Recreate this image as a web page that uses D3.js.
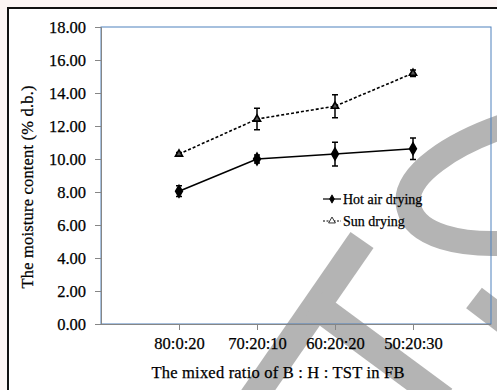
<!DOCTYPE html>
<html>
<head>
<meta charset="utf-8">
<script src="https://cdn.jsdelivr.net/npm/d3@7"></script>
<style>
  body { margin: 0; background: #fcf5f4; }
  svg { display: block; }
  text { font-family: "Liberation Serif", "Times New Roman", serif; fill: #000; stroke: #000; stroke-width: 0.25px; }
</style>
</head>
<body>
<script>
// ratios of B : H : TST, placed at x = 1..4 like the excel sheet
const categories = ["80:0:20", "70:20:10", "60:20:20", "50:20:30"];
const hotAir = [8.05, 10.0, 10.3, 10.62];
const hotAirErr = [0.33, 0.24, 0.72, 0.65];
const sunDry = [10.3, 12.42, 13.2, 15.2];
const sunDryErr = [0.1, 0.65, 0.7, 0.2];
const yTicks = [0, 2, 4, 6, 8, 10, 12, 14, 16, 18];

const width = 497, height = 390;
const plot = { left: 101, right: 491, top: 27, bottom: 324 };

const svg = d3.select("body").append("svg")
    .attr("width", width)
    .attr("height", height);

// white sheet with the dark frame at top/left
svg.append("rect")
    .attr("x", 8).attr("y", 8)
    .attr("width", width).attr("height", height)
    .attr("fill", "#fff")
    .attr("stroke", "#111")
    .attr("stroke-width", 2);

// grey watermark behind the chart (not data)
const mark = svg.append("g")
    .attr("fill", "none")
    .attr("stroke", "#b4b4b4")
    .attr("stroke-width", 28);
mark.append("path").attr("d", "M250,402 L362,240");   // T bar
mark.append("path").attr("d", "M314,304 L444,400");   // T stem
mark.append("path")                                   // C
    .attr("stroke-width", 25)
    .attr("d", "M510,124 C455,142 400,175 409,208 C416,236 460,246 510,243");
mark.append("path").attr("stroke-width", 26).attr("d", "M474,298 L516,330");

const x = d3.scaleLinear().domain([0, 5]).range([plot.left, plot.right]);
const y = d3.scaleLinear().domain([0, 18]).range([plot.bottom, plot.top]);

// plot area border (blue)
svg.append("rect")
    .attr("x", plot.left).attr("y", plot.top)
    .attr("width", plot.right - plot.left)
    .attr("height", plot.bottom - plot.top)
    .attr("fill", "none")
    .attr("stroke", "#4f81bd")
    .attr("stroke-width", 1);

const yAxis = svg.append("g")
    .attr("transform", `translate(${plot.left},0)`)
    .call(d3.axisLeft(y).tickValues(yTicks).tickFormat(d3.format(".2f")).tickSize(6).tickPadding(9));

const xAxis = svg.append("g")
    .attr("transform", `translate(0,${plot.bottom})`)
    .call(d3.axisBottom(x).tickValues([1, 2, 3, 4]).tickFormat(d => categories[d - 1]).tickSize(6).tickPadding(7));

[yAxis, xAxis].forEach(a => {
    a.selectAll("path, line").attr("stroke", "#868686");
    a.selectAll("text").style("font-size", "16.5px").attr("fill", "#000");
});
xAxis.select(".domain").attr("d", `M${plot.left - 6},0.5H${plot.right}`);

// titles
svg.append("text")
    .attr("x", 278).attr("y", 378)
    .attr("text-anchor", "middle")
    .attr("textLength", 253)
    .style("font-size", "16.5px")
    .text("The mixed ratio of B : H : TST in FB");

svg.append("text")
    .attr("transform", "translate(33,187) rotate(-90)")
    .attr("text-anchor", "middle")
    .attr("textLength", 203)
    .style("font-size", "16.5px")
    .text("The moisture content  (% d.b.)");

const series = [
    { name: "Hot air drying", vals: hotAir, err: hotAirErr, dash: null, sym: d3.symbolDiamond },
    { name: "Sun drying", vals: sunDry, err: sunDryErr, dash: "3,2", sym: d3.symbolTriangle }
];

const line = d3.line().x((d, i) => x(i + 1)).y(d => y(d));

series.forEach(s => {
    const g = svg.append("g");
    g.append("path")
        .attr("d", line(s.vals))
        .attr("fill", "none")
        .attr("stroke", "#000")
        .attr("stroke-width", 1.6)
        .attr("stroke-dasharray", s.dash);

    // error bars
    s.vals.forEach((v, i) => {
        const cx = x(i + 1);
        const lo = y(v - s.err[i]), hi = y(v + s.err[i]);
        g.append("path")
            .attr("d", `M${cx},${lo}V${hi}M${cx - 3},${lo}H${cx + 3}M${cx - 3},${hi}H${cx + 3}`)
            .attr("stroke", "#000")
            .attr("stroke-width", 1.5)
            .attr("fill", "none");
    });

    g.selectAll(".pt").data(s.vals).enter().append("path")
        .attr("transform", (d, i) => `translate(${x(i + 1)},${y(d)})`)
        .attr("d", d3.symbol().type(s.sym).size(s.sym === d3.symbolDiamond ? 40 : 22))
        .attr("fill", s.sym === d3.symbolDiamond ? "#000" : "#555")
        .attr("stroke", "#000")
        .attr("stroke-width", 1.6);
});

// legend
const legend = svg.append("g").attr("transform", "translate(323,199)");
series.forEach((s, i) => {
    const row = legend.append("g").attr("transform", `translate(0,${i * 22})`);
    row.append("line")
        .attr("x1", 0).attr("x2", 18)
        .attr("stroke", "#000")
        .attr("stroke-width", 1.2)
        .attr("stroke-dasharray", s.dash ? "2,1.5" : null);
    row.append("path")
        .attr("transform", "translate(9,0)")
        .attr("d", d3.symbol().type(s.sym).size(20))
        .attr("fill", s.sym === d3.symbolDiamond ? "#000" : "#fff")
        .attr("stroke", "#000")
        .attr("stroke-width", 0.8);
    row.append("text")
        .attr("x", 20).attr("dy", "0.35em")
        .style("font-size", "14px")
        .text(s.name);
});
</script>
</body>
</html>
